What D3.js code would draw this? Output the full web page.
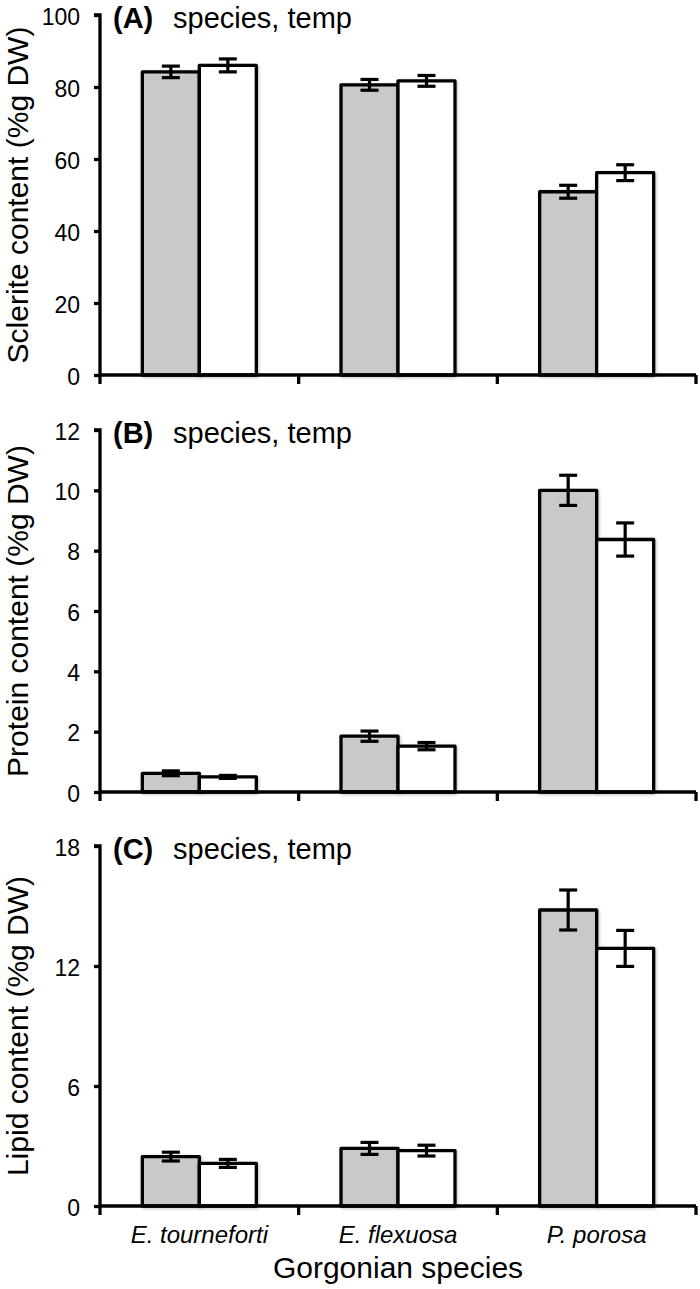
<!DOCTYPE html>
<html>
<head>
<meta charset="utf-8">
<script src="https://cdn.jsdelivr.net/npm/d3@7"></script>
<style>
  html, body { margin: 0; padding: 0; background: #fff; }
  svg { display: block; font-family: "Liberation Sans", Arial, Helvetica, sans-serif; }
</style>
</head>
<body>
<svg id="chart" width="700" height="1289"></svg>
<script>
// ---- data ----
const species = ["E. tourneforti", "E. flexuosa", "P. porosa"];
const groups = ["grey", "white"];

const scleriteGrey = [84.2, 80.6, 50.9];
const scleriteGreyErr = [1.6, 1.5, 1.8];
const scleriteWhite = [86.0, 81.7, 56.2];
const scleriteWhiteErr = [1.8, 1.5, 2.2];

const proteinGrey = [0.62, 1.85, 10.0];
const proteinGreyErr = [0.08, 0.17, 0.5];
const proteinWhite = [0.5, 1.52, 8.37];
const proteinWhiteErr = [0.05, 0.12, 0.55];

const lipidGrey = [2.47, 2.88, 14.8];
const lipidGreyErr = [0.22, 0.3, 1.0];
const lipidWhite = [2.13, 2.77, 12.88];
const lipidWhiteErr = [0.2, 0.27, 0.9];

const scleriteTicks = [0, 20, 40, 60, 80, 100];
const proteinTicks = [0, 2, 4, 6, 8, 10, 12];
const lipidTicks = [0, 6, 12, 18];

const panels = [
  { tag: "(A)", label: "species, temp", yTitle: "Sclerite content (%g DW)", max: 100, ticks: scleriteTicks,
    grey: scleriteGrey, greyErr: scleriteGreyErr, white: scleriteWhite, whiteErr: scleriteWhiteErr, top: 15, bottom: 375 },
  { tag: "(B)", label: "species, temp", yTitle: "Protein content (%g DW)", max: 12, ticks: proteinTicks,
    grey: proteinGrey, greyErr: proteinGreyErr, white: proteinWhite, whiteErr: proteinWhiteErr, top: 430, bottom: 792 },
  { tag: "(C)", label: "species, temp", yTitle: "Lipid content (%g DW)", max: 18, ticks: lipidTicks,
    grey: lipidGrey, greyErr: lipidGreyErr, white: lipidWhite, whiteErr: lipidWhiteErr, top: 846, bottom: 1206 }
];

const svg = d3.select("#chart");
const defs = svg.append("defs");
const f = defs.append("filter").attr("id", "shadow").attr("x", "-10%").attr("y", "-10%").attr("width", "130%").attr("height", "130%");
f.append("feDropShadow").attr("dx", 1).attr("dy", 1).attr("stdDeviation", 1.5).attr("flood-color", "#000").attr("flood-opacity", 0.25);

const x0 = d3.scaleBand().domain(species).range([100, 696]).paddingInner(0).paddingOuter(0);
const x1 = d3.scaleBand().domain(groups).range([0, x0.bandwidth()]).paddingInner(0).paddingOuter(0.743);
const fills = { grey: "#c9c9c9", white: "#ffffff" };

panels.forEach((p, pi) => {
  const y = d3.scaleLinear().domain([0, p.max]).range([p.bottom, p.top]);
  const g = svg.append("g");

  // bars
  groups.forEach(gr => {
    const vals = p[gr];
    g.append("g").selectAll("rect").data(species).join("rect")
      .attr("x", (d) => x0(d) + x1(gr))
      .attr("y", (d, i) => y(vals[i]))
      .attr("width", x1.bandwidth())
      .attr("height", (d, i) => y(0) - y(vals[i]))
      .attr("fill", fills[gr])
      .attr("stroke", "#000")
      .attr("stroke-width", 3.3)
      .attr("stroke-linejoin", "round")
      .attr("filter", "url(#shadow)");
  });
  // error bars
  groups.forEach(gr => {
    const vals = p[gr], errs = p[gr + "Err"];
    const eg = g.append("g").attr("stroke", "#000").attr("stroke-width", 3.2);
    species.forEach((s, i) => {
      const cx = x0(s) + x1(gr) + x1.bandwidth() / 2;
      const yt = y(vals[i] + errs[i]), yb = y(vals[i] - errs[i]);
      eg.append("line").attr("x1", cx).attr("x2", cx).attr("y1", yt).attr("y2", yb);
      eg.append("line").attr("x1", cx - 9).attr("x2", cx + 9).attr("y1", yt).attr("y2", yt);
      eg.append("line").attr("x1", cx - 9).attr("x2", cx + 9).attr("y1", yb).attr("y2", yb);
    });
  });

  // y axis
  const yAxis = d3.axisLeft(y).tickValues(p.ticks).tickSize(6).tickPadding(14).tickFormat(d3.format("d"));
  const ya = g.append("g").attr("transform", "translate(100,0)").call(yAxis);
  ya.select(".domain").attr("stroke-width", 3.3).attr("d", `M-6,${p.top}H0V${p.bottom}`);
  ya.selectAll(".tick line").attr("stroke-width", 3.3);
  ya.selectAll(".tick text").attr("font-size", 23).attr("fill", "#000").attr("dy", "0.4em")
    .attr("font-family", "Liberation Sans, Arial, sans-serif");

  // x axis
  const xa = g.append("g").attr("transform", `translate(0,${p.bottom})`);
  xa.append("line").attr("x1", 100).attr("x2", 696).attr("y1", 0).attr("y2", 0).attr("stroke", "#000").attr("stroke-width", 3.3);
  const edges = species.map(s => x0(s)).concat([x0(species[species.length - 1]) + x0.bandwidth()]);
  xa.selectAll("line.tk").data(edges).join("line").attr("class", "tk")
    .attr("x1", d => d).attr("x2", d => d).attr("y1", 0).attr("y2", 9)
    .attr("stroke", "#000").attr("stroke-width", 3.3);

  if (pi === 2) {
    xa.selectAll("text.cat").data(species).join("text").attr("class", "cat")
      .attr("x", d => x0(d) + x0.bandwidth() / 2).attr("y", 37)
      .attr("text-anchor", "middle").attr("font-style", "italic").attr("font-size", 24).text(d => d);
    svg.append("text").attr("x", 398).attr("y", 1278).attr("text-anchor", "middle")
      .attr("font-size", 30).text("Gorgonian species");
  }

  // panel title
  g.append("text").attr("x", 113).attr("y", p.top + 13).attr("font-weight", "bold").attr("font-size", 29).text(p.tag);
  g.append("text").attr("x", 173).attr("y", p.top + 13).attr("font-size", 29).text(p.label);

  // y title
  g.append("text").attr("transform", `translate(28,${(p.top + p.bottom) / 2}) rotate(-90)`)
    .attr("text-anchor", "middle").attr("font-size", 30).text(p.yTitle);
});
</script>
</body>
</html>
